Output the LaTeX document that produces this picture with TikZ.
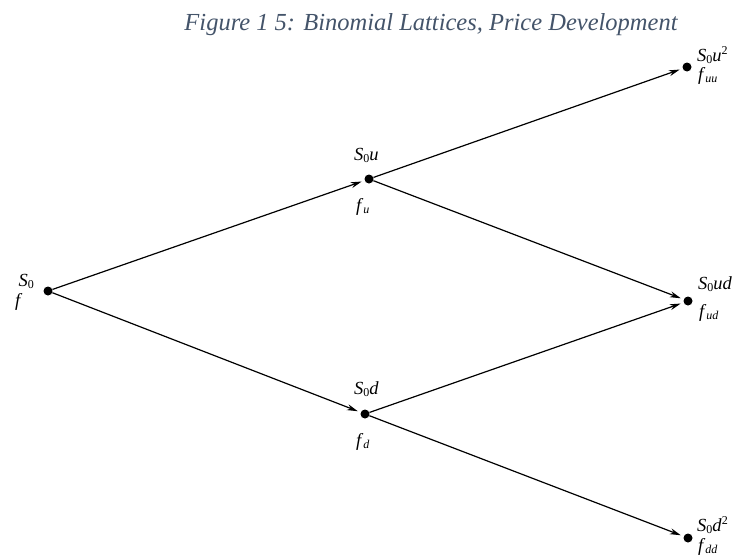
\documentclass[tikz,border=0pt]{standalone}
\usepackage{fontspec}
\setmainfont{Liberation Serif}
\usetikzlibrary{arrows.meta}
\definecolor{capcol}{HTML}{44546A}
\newcommand{\Sz}{\textit{S}\raisebox{-0.3ex}{\fontsize{12}{12}\selectfont 0}}
\newcommand{\sbs}[1]{\raisebox{-0.35ex}{\fontsize{12}{12}\selectfont\itshape #1}}
\newcommand{\sps}[1]{\raisebox{0.75ex}{\fontsize{12}{12}\selectfont #1}}
\begin{document}
\begin{tikzpicture}[x=1pt,y=-1pt,
  dot/.style={circle,fill=black,inner sep=0pt,minimum size=9pt},
  lbl/.style={inner sep=0pt,font=\fontsize{18.5}{18.5}\selectfont},
  edge/.style={line width=1.2pt,-{Stealth[length=11pt,width=6pt]},shorten >=3pt}]
\useasboundingbox (0,0) rectangle (739,557);
\node[font=\fontsize{24.5}{24.5}\selectfont\itshape,text=capcol,anchor=base] (cap) at (431,30) {Figure 1 5: Binomial Lattices, Price Development};
\node[dot] (a) at (48,291) {};
\node[dot] (b) at (369,179) {};
\node[dot] (c) at (365,414) {};
\node[dot] (d) at (687,67) {};
\node[dot] (e) at (688,301) {};
\node[dot] (g) at (688,538) {};
\draw[edge] (a) -- (b);
\draw[edge] (a) -- (c);
\draw[edge] (b) -- (d);
\draw[edge] (b) -- (e);
\draw[edge] (c) -- (e);
\draw[edge] (c) -- (g);
\node[lbl,anchor=base east] (a1) at (34,286) {\Sz};
\node[lbl,anchor=base west] (a2) at (15,306) {\textit{f}};
\node[lbl,anchor=base west] (b1) at (354,160) {\Sz\textit{u}};
\node[lbl,anchor=base west] (b2) at (356,211) {\textit{f}\sbs{u}};
\node[lbl,anchor=base west] (c1) at (354,394) {\Sz\textit{d}};
\node[lbl,anchor=base west] (c2) at (356,446) {\textit{f}\sbs{d}};
\node[lbl,anchor=base west] (d1) at (697,61) {\Sz\textit{u}\sps{2}};
\node[lbl,anchor=base west] (d2) at (698,80) {\textit{f}\sbs{uu}};
\node[lbl,anchor=base west] (e1) at (698,289) {\Sz\textit{ud}};
\node[lbl,anchor=base west] (e2) at (699,317) {\textit{f}\sbs{ud}};
\node[lbl,anchor=base west] (g1) at (697,531) {\Sz\textit{d}\sps{2}};
\node[lbl,anchor=base west] (g2) at (698,551) {\textit{f}\sbs{dd}};
\end{tikzpicture}
\end{document}
